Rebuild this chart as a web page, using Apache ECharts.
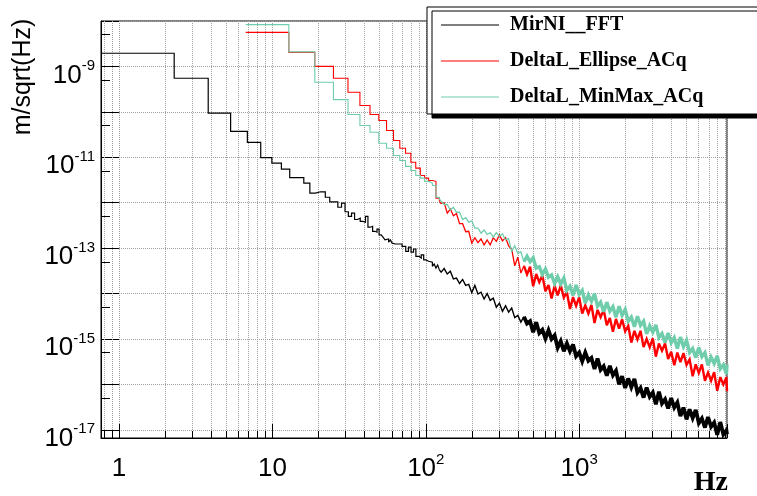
<!DOCTYPE html>
<html><head><meta charset="utf-8">
<script src="https://cdn.jsdelivr.net/npm/echarts@6/dist/echarts.min.js"></script>
<style>html,body{margin:0;padding:0;background:#fff}#c{width:757px;height:496px}</style>
</head><body><div id="c"></div>
<script>
// ---------- DATA (amplitudes stored as log10 of m/sqrt(Hz)) ----------
// MirNI__FFT : histogram bin lower edges (Hz) and log10 amplitude, low-frequency part
const fftFreq = [0.763, 2.289, 3.815, 5.341, 6.866, 8.392, 9.918, 11.444, 12.970, 14.496,
  16.022, 17.548, 19.074, 20.599, 22.125, 23.651, 25.177, 26.703, 28.229, 29.755,
  31.281, 32.807, 34.332, 35.858, 37.384, 38.910, 40.436, 41.962, 43.488, 45.014,
  46.539, 48.065, 49.59, 51.12, 52.64, 54.17, 55.7, 57.2, 58.75, 60.3,
  61.8, 63.3, 64.9, 70.0, 74.0, 77.1, 80.1, 83.2, 86.2, 90.3,
  93.4, 96.9, 100.2, 104.3, 107.3, 110.4, 113.4, 116.5, 119.5, 122.6];
const fftLog = [-8.71, -9.26, -10.03, -10.43, -10.67, -11.01, -11.13, -11.26, -11.45, -11.45,
  -11.57, -11.79, -11.76, -11.76, -11.88, -11.98, -11.98, -12.10, -12.01, -12.20,
  -12.30, -12.23, -12.37, -12.34, -12.41, -12.43, -12.30, -12.54, -12.52, -12.63,
  -12.65, -12.58, -12.71, -12.67, -12.76, -12.82, -12.80, -12.87, -12.82, -12.89,
  -12.91, -12.87, -12.91, -12.96, -13.07, -12.98, -13.09, -13.02, -13.18, -13.22,
  -13.15, -13.26, -13.29, -13.33, -13.31, -13.40, -13.35, -13.44, -13.37, -13.48];

// DeltaL_* : wider bins, lower edges (Hz), low-frequency part
const acqFreq = [6.7, 12.8, 18.9, 25.0, 31.1, 37.2, 43.3, 49.4, 55.5, 61.6,
  67.7, 73.8, 79.9, 86.0, 92.1, 98.2, 104.3, 110.4, 116.5, 122.6];
const ellipseLog = [-8.25, -8.69, -9.00, -9.26, -9.57, -9.86, -10.06, -10.19, -10.41, -10.63,
  -10.80, -10.91, -11.11, -11.24, -11.40, -11.46, -11.51, -11.53, -11.90, -11.97];
const minmaxLog = [-8.08, -8.68, -9.35, -9.73, -10.06, -10.30, -10.45, -10.69, -10.80, -10.96,
  -11.07, -11.20, -11.29, -11.40, -11.46, -11.53, -11.57, -11.62, -11.88, -11.92];

// dense (noisy) high-frequency part, shared frequency samples (Hz)
const hiFreq = [125.9, 131.8, 138.0, 144.5, 151.4, 158.5, 166.0, 173.8, 182.0, 190.5,
  199.5, 208.9, 218.8, 229.1, 239.9, 251.2, 263.0, 275.4, 288.4, 302.0,
  316.2, 331.1, 346.7, 363.1, 380.2, 398.1, 416.9, 436.5, 457.1, 478.6,
  501.2, 524.8, 549.5, 575.4, 602.6, 631.0, 660.7, 691.8, 724.4, 758.6,
  794.3, 831.8, 871.0, 912.0, 955.0, 1000, 1047, 1096, 1148, 1202,
  1259, 1318, 1380, 1445, 1514, 1585, 1660, 1738, 1820, 1905,
  1995, 2089, 2188, 2291, 2399, 2512, 2630, 2754, 2884, 3020,
  3162, 3311, 3467, 3631, 3802, 3981, 4169, 4365, 4571, 4786,
  5012, 5248, 5495, 5754, 6026, 6310, 6607, 6918, 7244, 7586,
  7943, 8318, 8710, 9120, 9200];
const fftHiLog = [-13.53, -13.45, -13.57, -13.51, -13.68, -13.66, -13.78, -13.69, -13.82, -13.80,
  -13.98, -13.82, -14.01, -13.97, -14.12, -14.00, -14.15, -14.10, -14.30, -14.21,
  -14.39, -14.27, -14.41, -14.32, -14.53, -14.48, -14.63, -14.51, -14.66, -14.61,
  -14.85, -14.63, -14.87, -14.80, -14.99, -14.81, -15.00, -14.92, -15.19, -15.05,
  -15.27, -15.10, -15.27, -15.12, -15.38, -15.30, -15.49, -15.30, -15.48, -15.42,
  -15.66, -15.43, -15.68, -15.60, -15.81, -15.59, -15.80, -15.70, -16.00, -15.82,
  -16.08, -15.87, -16.06, -15.88, -16.18, -16.08, -16.29, -16.07, -16.27, -16.18,
  -16.44, -16.16, -16.42, -16.33, -16.53, -16.30, -16.51, -16.40, -16.70, -16.51,
  -16.77, -16.55, -16.74, -16.56, -16.85, -16.75, -16.95, -16.72, -16.93, -16.84,
  -17.11, -16.83, -17.10, -17.01, -17.10];
const ellipseHiLog = [-12.02, -12.00, -12.23, -12.14, -12.29, -12.24, -12.46, -12.46, -12.64, -12.63,
  -12.89, -12.77, -12.88, -12.80, -12.93, -12.82, -12.93, -12.77, -12.85, -12.71,
  -12.84, -12.77, -12.95, -13.02, -13.39, -13.20, -13.55, -13.39, -13.58, -13.41,
  -13.84, -13.57, -13.75, -13.60, -13.95, -13.81, -14.11, -13.83, -14.04, -13.82,
  -14.09, -13.97, -14.34, -14.08, -14.27, -14.08, -14.44, -14.26, -14.44, -14.25,
  -14.65, -14.36, -14.52, -14.36, -14.70, -14.54, -14.84, -14.56, -14.77, -14.57,
  -14.83, -14.71, -15.08, -14.82, -15.01, -14.82, -15.18, -15.00, -15.18, -14.99,
  -15.39, -15.10, -15.26, -15.10, -15.44, -15.28, -15.58, -15.30, -15.51, -15.31,
  -15.57, -15.45, -15.82, -15.56, -15.75, -15.56, -15.92, -15.74, -15.92, -15.73,
  -16.14, -15.84, -16.00, -15.84, -16.15];
const minmaxHiLog = [-11.90, -12.04, -12.04, -12.16, -12.10, -12.21, -12.21, -12.37, -12.33, -12.43,
  -12.40, -12.56, -12.56, -12.67, -12.60, -12.70, -12.66, -12.76, -12.66, -12.74,
  -12.69, -12.82, -12.79, -13.07, -12.95, -13.12, -13.08, -13.30, -13.18, -13.30,
  -13.21, -13.44, -13.41, -13.58, -13.46, -13.64, -13.59, -13.78, -13.63, -13.79,
  -13.66, -13.93, -13.84, -14.04, -13.81, -14.02, -13.93, -14.21, -14.03, -14.17,
  -14.00, -14.28, -14.19, -14.40, -14.19, -14.39, -14.29, -14.52, -14.28, -14.48,
  -14.35, -14.61, -14.52, -14.73, -14.50, -14.70, -14.61, -14.89, -14.71, -14.85,
  -14.69, -14.97, -14.88, -15.08, -14.87, -15.08, -14.97, -15.21, -14.96, -15.17,
  -15.03, -15.30, -15.21, -15.41, -15.19, -15.39, -15.30, -15.58, -15.40, -15.54,
  -15.37, -15.66, -15.57, -15.77, -15.56];

const seriesNames = ['MirNI__FFT', 'DeltaL_Ellipse_ACq', 'DeltaL_MinMax_ACq'];
const seriesColors = ['#000000', '#ff0000', '#6fcdac'];

// axis ranges
const xMin = 0.763, xMax = 9200;
const yMin = 6.6e-18, yMax = 1e-8;

// ---------- build ----------
function toPairs(freq, logs) { return freq.map((f, i) => [f, Math.pow(10, logs[i])]); }
const SPLIT = 27; // index in hiFreq where the noise band gets dense (~440 Hz)
function parts(lowFreq, lowLog, hiLog) {
  const low = toPairs(lowFreq, lowLog);
  const hi = toPairs(hiFreq, hiLog);
  return { low: low, mid: [low[low.length - 1]].concat(hi.slice(0, SPLIT + 1)), dense: hi.slice(SPLIT) };
}
const fftP = parts(fftFreq, fftLog, fftHiLog);
const ellP = parts(acqFreq, ellipseLog, ellipseHiLog);
const mmP = parts(acqFreq, minmaxLog, minmaxHiLog);

const G = { left: 101, top: 21, width: 626, height: 417 };
const pxPerDecX = G.width / (Math.log10(xMax) - Math.log10(xMin));
const pxPerDecY = G.height / (Math.log10(yMax) - Math.log10(yMin));

// minor decorations (ROOT style): x at 2..9 x 10^n, y at 5 x 10^n
const minorX = [];
[0.1, 1, 10, 100, 1000].forEach(d => { for (let m = 2; m <= 9; m++) { const v = +(m * d).toPrecision(6); if (v > xMin && v < xMax) minorX.push(v); } });
const minorY = [];
for (let n = -18; n <= -9; n++) { const v = 5 * Math.pow(10, n); if (v > yMin && v < yMax) minorY.push(v); }

const gridStyle = { type: 'dotted', color: '#a0a0a0', width: 1 };
const tickStyle = { type: 'solid', color: '#000', width: 1 };
const markData = []
  .concat(minorX.map(v => ({ xAxis: v, lineStyle: gridStyle })))
  .concat(minorX.map(v => [{ coord: [v, yMin], lineStyle: tickStyle }, { coord: [v, yMin * Math.pow(10, 7 / pxPerDecY)] }]))
  .concat(minorY.map(v => [{ coord: [xMin, v], lineStyle: tickStyle }, { coord: [xMin * Math.pow(10, 9 / pxPerDecX), v] }]));

const fontSans = 'Liberation Sans';
const richLabels = {
  b: { fontSize: 26, lineHeight: 30, fontFamily: fontSans, color: '#000', verticalAlign: 'bottom' },
  s: { fontSize: 15, lineHeight: 13, fontFamily: fontSans, color: '#000', verticalAlign: 'top' }
};
function decade(v) { const l = Math.log10(v); const e = Math.round(l); return Math.abs(l - e) < 1e-6 ? e : null; }

function lineSeries(idx, data, stepped, width, z) {
  return { name: seriesNames[idx], type: 'line', step: stepped ? 'end' : false, data: data,
    showSymbol: false, color: seriesColors[idx], lineStyle: { color: seriesColors[idx], width: width, join: 'miter', miterLimit: 3 },
    emphasis: { disabled: true }, z: z };
}

const chart = echarts.init(document.getElementById('c'), null, { renderer: 'canvas' });
chart.setOption({
  animation: false,
  backgroundColor: '#fff',
  grid: { left: G.left, top: G.top, width: G.width, height: G.height, show: true, borderColor: '#000', borderWidth: 1, backgroundColor: 'transparent', containLabel: false, outerBoundsMode: 'none' },
  xAxis: {
    type: 'log', logBase: 10, min: xMin, max: xMax,
    axisLine: { show: true, lineStyle: { color: '#000', width: 1 } },
    axisTick: { show: true, inside: true, length: 14, lineStyle: { color: '#000' } },
    splitLine: { show: true, lineStyle: gridStyle },
    minorTick: { show: false }, minorSplitLine: { show: false },
    axisLabel: {
      margin: 14, color: '#000', hideOverlap: false,
      formatter: v => { const e = decade(v); if (e === null) return ''; if (e === 0) return '{b|1}'; if (e === 1) return '{b|10}'; return '{b|10}{s|' + e + '}'; },
      rich: richLabels
    }
  },
  yAxis: {
    type: 'log', logBase: 10, min: yMin, max: yMax,
    axisLine: { show: true, lineStyle: { color: '#000', width: 1 } },
    axisTick: { show: true, inside: true, length: 18, lineStyle: { color: '#000' } },
    splitLine: { show: true, lineStyle: gridStyle },
    minorTick: { show: false }, minorSplitLine: { show: false },
    axisLabel: {
      margin: 6, color: '#000', padding: [14, 0, 0, 0], hideOverlap: false,
      formatter: v => { const e = decade(v); if (e === null || e % 2 === 0) return ''; return '{b|10}{s|' + e + '}'; },
      rich: richLabels
    }
  },
  legend: {
    data: seriesNames, orient: 'vertical', left: 427, top: 7,
    selectedMode: false,
    backgroundColor: '#fff', borderColor: '#000', borderWidth: 1, borderRadius: 0,
    padding: [8, 130, 7, 14],
    itemWidth: 58, itemHeight: 1, itemGap: 16, icon: 'rect',
    shadowColor: '#000', shadowBlur: 0, shadowOffsetX: 5, shadowOffsetY: 4,
    textStyle: { fontFamily: 'Liberation Serif', fontWeight: 'bold', fontSize: 20, lineHeight: 20, color: '#000', padding: [0, 0, 0, 6] }
  },
  graphic: [
    { type: 'text', x: 23, y: 77, rotation: Math.PI / 2, silent: true,
      style: { text: 'm/sqrt(Hz)', fontSize: 25, fontFamily: fontSans, fill: '#000', align: 'center', verticalAlign: 'middle' } },
    { type: 'text', x: 728, y: 483, silent: true,
      style: { text: 'Hz', fontSize: 28, fontFamily: 'Liberation Serif', fontWeight: 'bold', fill: '#000', align: 'right', verticalAlign: 'middle' } }
  ],
  series: [
    { name: '__decor', type: 'line', data: [], silent: true,
      markLine: { silent: true, symbol: ['none', 'none'], z: 1, animation: false, label: { show: false }, emphasis: { disabled: true }, data: markData } },
    lineSeries(0, fftP.low, true, 1.2, 3),
    lineSeries(0, fftP.mid, false, 1.4, 3),
    lineSeries(0, fftP.dense, false, 3.8, 3),
    lineSeries(1, ellP.low, true, 1.1, 4),
    lineSeries(1, ellP.mid, false, 1.3, 4),
    lineSeries(1, ellP.dense, false, 2.4, 4),
    lineSeries(2, mmP.low, true, 1.1, 5),
    lineSeries(2, mmP.mid, false, 1.3, 5),
    lineSeries(2, mmP.dense, false, 3.4, 5)
  ]
});
</script></body></html>
